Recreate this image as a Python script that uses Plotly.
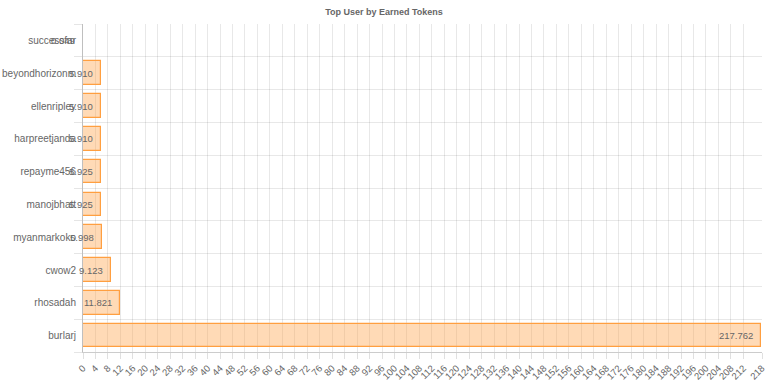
import plotly.graph_objects as go

users = ["successfar", "beyondhorizonm", "ellenripley", "harpreetjanda", "repayme456",
         "manojbhatt", "myanmarkoko", "cwow2", "rhosadah", "burlarj"]
tokens = [0.049, 5.910, 5.910, 5.910, 5.925, 5.925, 5.998, 9.123, 11.821, 217.762]
value_labels = ["0.049", "5.910", "5.910", "5.910", "5.925", "5.925", "5.998", "9.123", "11.821", "217.762"]
x_ticks = list(range(0, 216, 4)) + [218]

pos = list(range(len(users)))
FONT = "Liberation Sans, Arial, Helvetica, sans-serif"
GRAY = "#666666"

fig = go.Figure(go.Bar(
    x=tokens, y=pos, orientation="h", width=0.72,
    marker=dict(color="rgba(255,159,64,0.38)", line=dict(color="rgb(255,159,64)", width=1.2)),
    hoverinfo="x+y",
))

for xv, yv, t in zip(tokens, pos, value_labels):
    fig.add_annotation(x=xv, y=yv, xref="x", yref="y", text=t, showarrow=False,
                       xanchor="right", yanchor="middle", xshift=-6,
                       font=dict(family=FONT, size=9.5, color=GRAY))

fig.update_layout(
    width=768, height=383,
    margin=dict(l=83, r=6, t=24, b=31),
    paper_bgcolor="white", plot_bgcolor="white",
    title=dict(text="<b>Top User by Earned Tokens</b>", x=0.5, xanchor="center",
               y=1 - 12 / 383, yanchor="middle",
               font=dict(family=FONT, size=9, color=GRAY)),
    font=dict(family=FONT, size=9, color=GRAY),
    showlegend=False,
    bargap=0,
)

fig.update_xaxes(
    range=[0, 218], tickvals=x_ticks, ticktext=[str(v) for v in x_ticks],
    tickangle=-45, ticks="outside", ticklen=6, tickcolor="rgba(0,0,0,0.12)",
    showgrid=True, gridcolor="rgba(0,0,0,0.09)", gridwidth=1,
    zeroline=False, showline=True, linecolor="rgba(0,0,0,0.2)", linewidth=1,
    tickfont=dict(family=FONT, size=9.5, color=GRAY), automargin=False, fixedrange=True,
)

fig.update_yaxes(
    range=[len(users) - 0.5, -0.5], tickvals=pos, ticktext=users,
    ticks="outside", ticklen=4, tickcolor="rgba(0,0,0,0)",
    showgrid=False, zeroline=False,
    showline=True, linecolor="rgba(0,0,0,0.25)", linewidth=1,
    minor=dict(tickvals=[p - 0.5 for p in pos] + [len(users) - 0.5], showgrid=True,
               gridcolor="rgba(0,0,0,0.09)", gridwidth=1, ticks="outside", ticklen=8,
               tickcolor="rgba(0,0,0,0.1)"),
    tickfont=dict(family=FONT, size=10, color=GRAY), automargin=False, fixedrange=True,
)

fig.write_html("out.html", config={"displayModeBar": False},
               post_script="document.body.style.margin='0';document.body.style.overflow='hidden';")
